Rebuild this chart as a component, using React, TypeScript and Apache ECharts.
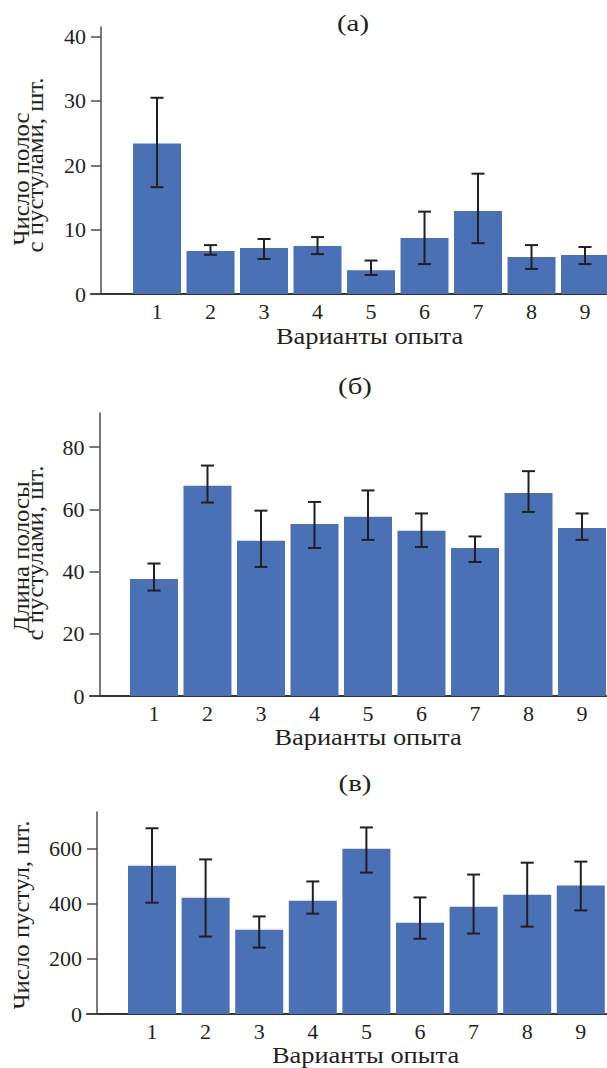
import React, { useEffect, useRef } from "react";
import * as echarts from "echarts";

const variants = [1, 2, 3, 4, 5, 6, 7, 8, 9];

// (а) Число полос с пустулами
const aMean = [23.4, 6.7, 7.15, 7.45, 3.7, 8.7, 12.9, 5.75, 6.05];
const aHigh = [30.5, 7.6, 8.55, 8.85, 5.2, 12.8, 18.7, 7.6, 7.3];
const aLow = [16.6, 6.1, 5.45, 6.2, 2.95, 4.65, 7.9, 3.9, 4.65];
const aTicks = [0, 10, 20, 30, 40];

// (б) Длина полосы с пустулами
const bMean = [37.6, 67.6, 49.9, 55.3, 57.6, 53.1, 47.6, 65.3, 54.0];
const bHigh = [42.6, 74.1, 59.6, 62.4, 66.1, 58.7, 51.3, 72.3, 58.7];
const bLow = [33.9, 62.2, 41.5, 47.6, 50.2, 47.9, 43.1, 59.2, 50.2];
const bTicks = [0, 20, 40, 60, 80];

// (в) Число пустул
const cMean = [538, 422, 306, 411, 600, 331, 389, 433, 466];
const cHigh = [674, 561, 354, 481, 677, 423, 506, 549, 553];
const cLow = [404, 281, 241, 364, 513, 273, 292, 317, 376];
const cTicks = [0, 200, 400, 600];

const titles = ["(а)", "(б)", "(в)"];
const xName = "Варианты опыта";

const FONT = "'Liberation Serif', 'Times New Roman', serif";
const TEXT = "#231f20";
const BAR = "#4a70b5";
const ERR = "#231f20";

export default function App() {
  const ref = useRef<HTMLDivElement>(null);
  useEffect(() => {
    if (!ref.current) return;
    const chart = echarts.init(ref.current, null, { renderer: "svg" });

    const panels = [
      { mean: aMean, hi: aHigh, lo: aLow, ticks: aTicks, yMax: 41.5, top: 27, height: 267, left: 91, off: -10, xMin: -0.234, xMax: 9.411 },
      { mean: bMean, hi: bHigh, lo: bLow, ticks: bTicks, yMax: 91, top: 413, height: 283, left: 90, off: -9.5, xMin: -0.196, xMax: 9.467 },
      { mean: cMean, hi: cHigh, lo: cLow, ticks: cTicks, yMax: 733, top: 812, height: 202, left: 87, off: -10, xMin: -0.213, xMax: 9.489 },
    ];

    const grid = panels.map((p) => ({ left: p.left, right: 0, top: p.top, height: p.height }));
    const xAxis = panels.map((p, i) => ({
      type: "value",
      gridIndex: i,
      min: p.xMin,
      max: p.xMax,
      splitLine: { show: false },
      axisTick: { show: false },
      axisLine: { onZero: false, lineStyle: { color: "#333", width: 2 } },
      axisLabel: {
        customValues: variants,
        color: TEXT,
        fontFamily: FONT,
        fontSize: 22,
        margin: 6,
        formatter: (v: number) => String(v),
      },
    }));
    const yAxis = panels.map((p, i) => ({
      type: "value",
      gridIndex: i,
      min: 0,
      max: p.yMax,
      offset: p.off,
      splitLine: { show: false },
      axisLine: { show: true, onZero: false, lineStyle: { color: "#4d4d4d", width: 1.5 } },
      axisTick: { show: true, length: 10, customValues: p.ticks, lineStyle: { color: "#4d4d4d", width: 1.5 } },
      axisLabel: { customValues: p.ticks, color: TEXT, fontFamily: FONT, fontSize: 22, margin: 15 },
    }));

    const series: any[] = [];
    panels.forEach((p, i) => {
      series.push({
        type: "bar",
        xAxisIndex: i,
        yAxisIndex: i,
        barWidth: 48,
        itemStyle: { color: BAR },
        data: variants.map((v, k) => [v, p.mean[k]]),
      });
      series.push({
        type: "custom",
        xAxisIndex: i,
        yAxisIndex: i,
        z: 10,
        encode: { x: 0, y: [1, 2] },
        data: variants.map((v, k) => [v, p.lo[k], p.hi[k]]),
        renderItem: (_params: any, api: any) => {
          const x = api.value(0);
          const lo = api.coord([x, api.value(1)]);
          const hi = api.coord([x, api.value(2)]);
          const w = 6.5;
          const style = { stroke: ERR, lineWidth: 2 };
          return {
            type: "group",
            children: [
              { type: "line", shape: { x1: lo[0], y1: lo[1], x2: hi[0], y2: hi[1] }, style },
              { type: "line", shape: { x1: hi[0] - w, y1: hi[1], x2: hi[0] + w, y2: hi[1] }, style },
              { type: "line", shape: { x1: lo[0] - w, y1: lo[1], x2: lo[0] + w, y2: lo[1] }, style },
            ],
          };
        },
      });
    });

    const txt = (text: string, x: number, y: number, size: number, sx: number, rot = 0) => ({
      type: "text",
      x,
      y,
      rotation: rot,
      scaleX: sx,
      style: {
        text,
        fill: TEXT,
        font: `${size}px ${FONT}`,
        textAlign: "center",
        textVerticalAlign: "middle",
      },
    });
    const R = Math.PI / 2;
    const graphic = [
      txt(titles[0], 353, 23, 24, 1.2),
      txt(titles[1], 355, 386, 24, 1.2),
      txt(titles[2], 355, 783, 24, 1.2),
      txt(xName, 369.5, 336.5, 23, 1.15),
      txt(xName, 368, 737, 23, 1.15),
      txt(xName, 365.5, 1055, 23, 1.15),
      txt("Число полос", 21.7, 179, 23, 1.08, R),
      txt("с пустулами, шт.", 35.1, 165, 23, 1.08, R),
      txt("Длина полосы", 21.7, 557, 23, 1.08, R),
      txt("с пустулами, шт.", 35.1, 553, 23, 1.08, R),
      txt("Число пустул, шт.", 21.7, 915, 23, 1.08, R),
    ];

    chart.setOption({
      animation: false,
      backgroundColor: "#ffffff",
      grid,
      xAxis,
      yAxis,
      series,
      graphic,
    });
    return () => chart.dispose();
  }, []);
  return (
    <div
      ref={ref}
      style={{ position: "absolute", left: 0, top: 0, width: 607, height: 1068 }}
    />
  );
}
